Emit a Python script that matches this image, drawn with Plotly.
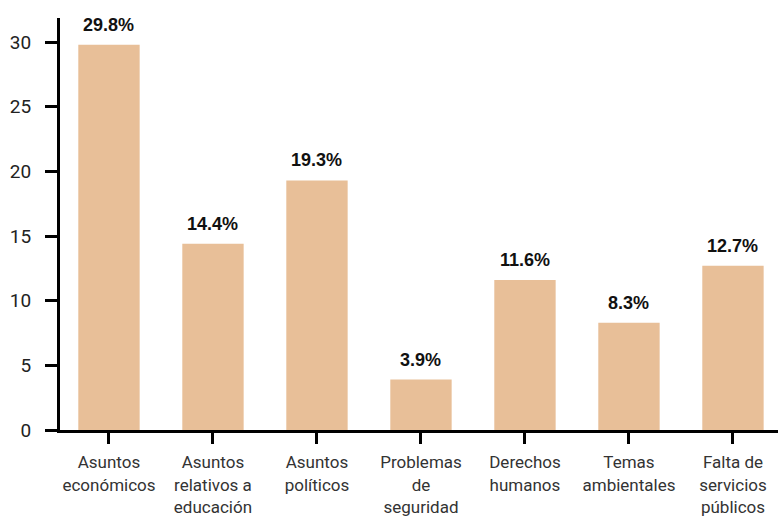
import plotly.graph_objects as go

categories = ["Asuntos<br>económicos", "Asuntos<br>relativos a<br>educación", "Asuntos<br>políticos",
              "Problemas<br>de<br>seguridad", "Derechos<br>humanos", "Temas<br>ambientales",
              "Falta de<br>servicios<br>públicos"]
values = [29.8, 14.4, 19.3, 3.9, 11.6, 8.3, 12.7]
value_labels = ["29.8%", "14.4%", "19.3%", "3.9%", "11.6%", "8.3%", "12.7%"]
y_ticks = [0, 5, 10, 15, 20, 25, 30]

fig = go.Figure()
fig.add_trace(go.Bar(x=list(range(len(categories))), y=values, width=0.59,
                     marker=dict(color="#E8BF98", line=dict(width=0)),
                     hoverinfo="skip"))
for i, (v, t) in enumerate(zip(values, value_labels)):
    fig.add_annotation(x=i, y=v, text="<b>" + t + "</b>", showarrow=False,
                       yanchor="bottom", yshift=8,
                       font=dict(family="Liberation Sans, Arial", size=18, color="#111111"))

fig.update_layout(
    width=778, height=516,
    margin=dict(l=60, r=0, t=18, b=86),
    paper_bgcolor="white", plot_bgcolor="white",
    showlegend=False,
    font=dict(family="Roboto, Arial", color="#333333"),
    xaxis=dict(range=[-0.471, 6.433], tickmode="array",
               tickvals=list(range(len(categories))), ticktext=categories,
               ticks="outside", ticklen=11, tickwidth=3, tickcolor="black",
               showline=True, linecolor="black", linewidth=3,
               showgrid=False, zeroline=False, fixedrange=True,
               ticklabelstandoff=4,
               tickfont=dict(family="Roboto, Arial", size=17, color="#333333")),
    yaxis=dict(range=[0, 31.86], tickmode="array", tickvals=y_ticks,
               ticks="outside", ticklen=12, tickwidth=3, tickcolor="black",
               showline=True, linecolor="black", linewidth=3,
               showgrid=False, zeroline=False, fixedrange=True,
               ticklabelstandoff=10,
               tickfont=dict(family="Roboto, Arial", size=19, color="#222222")),
)

fig.write_html("out.html", config={"displayModeBar": False},
               post_script="document.body.style.margin='0';")
